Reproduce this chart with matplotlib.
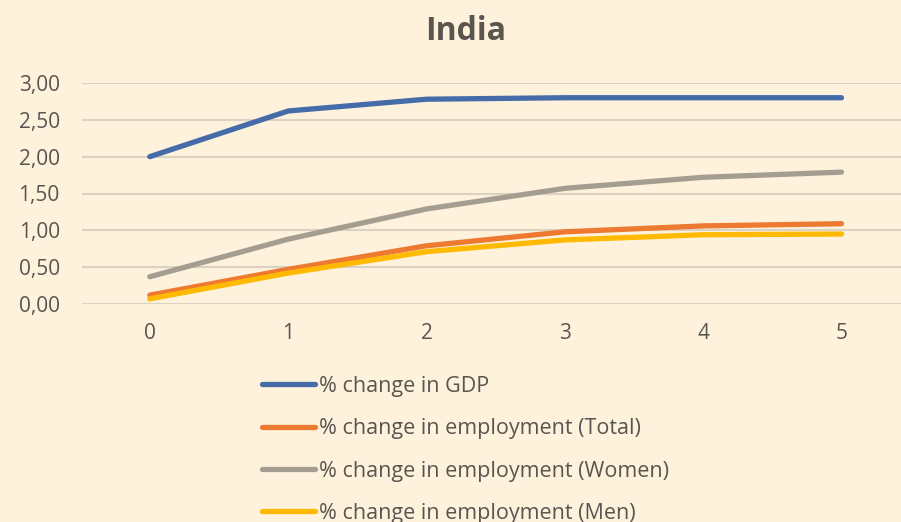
import matplotlib.pyplot as plt
from matplotlib.ticker import FuncFormatter

# data
years = [0, 1, 2, 3, 4, 5]
gdp = [2.00, 2.62, 2.78, 2.80, 2.80, 2.80]
emp_total = [0.12, 0.47, 0.79, 0.98, 1.06, 1.09]
emp_women = [0.37, 0.88, 1.29, 1.57, 1.72, 1.79]
emp_men = [0.07, 0.42, 0.71, 0.87, 0.94, 0.95]

labels = ['% change in GDP',
          '% change in employment (Total)',
          '% change in employment (Women)',
          '% change in employment (Men)']
colors = ['#456BA8', '#ED7A30', '#A59E90', '#FFB900']

bg = '#FEF2DD'
txt = '#595650'

plt.rcParams['font.family'] = ['Open Sans', 'DejaVu Sans']

fig = plt.figure(figsize=(9.01, 5.22), dpi=100, facecolor=bg)
ax = fig.add_axes([82 / 901, 218 / 522, 819 / 901, 221 / 522], facecolor=bg)

series = [gdp, emp_total, emp_women, emp_men]
for vals, lab, col in zip(series, labels, colors):
    ax.plot(years, vals, color=col, lw=3.8, label=lab,
            solid_capstyle='round', solid_joinstyle='round', clip_on=False)

ax.set_xlim(-0.49, 5.43)
ax.set_ylim(0, 3)
ax.set_yticks([0, 0.5, 1, 1.5, 2, 2.5, 3])
ax.set_xticks(years)
ax.yaxis.set_major_formatter(FuncFormatter(lambda v, p: f'{v:.2f}'.replace('.', ',')))
ax.grid(axis='y', color='#DCD2C2', lw=1.5)
ax.set_axisbelow(True)
for s in ax.spines.values():
    s.set_visible(False)
ax.tick_params(length=0, labelsize=15, colors=txt)
ax.tick_params(axis='x', pad=14)
ax.tick_params(axis='y', pad=16)

fig.text(466 / 901, 1 - 31 / 522, 'India', ha='center', va='center',
         fontsize=23, fontweight='bold', color=txt)

# last entry sits at the bottom edge, as in the original
fig.legend(loc='upper left', bbox_to_anchor=(262 / 901, 1 - 376 / 522),
           frameon=False, fontsize=15.5, labelcolor=txt, handlelength=2.47,
           handletextpad=0.2, labelspacing=0.99, borderpad=0, borderaxespad=0)

fig.savefig('out.png', dpi=100, facecolor=bg)
